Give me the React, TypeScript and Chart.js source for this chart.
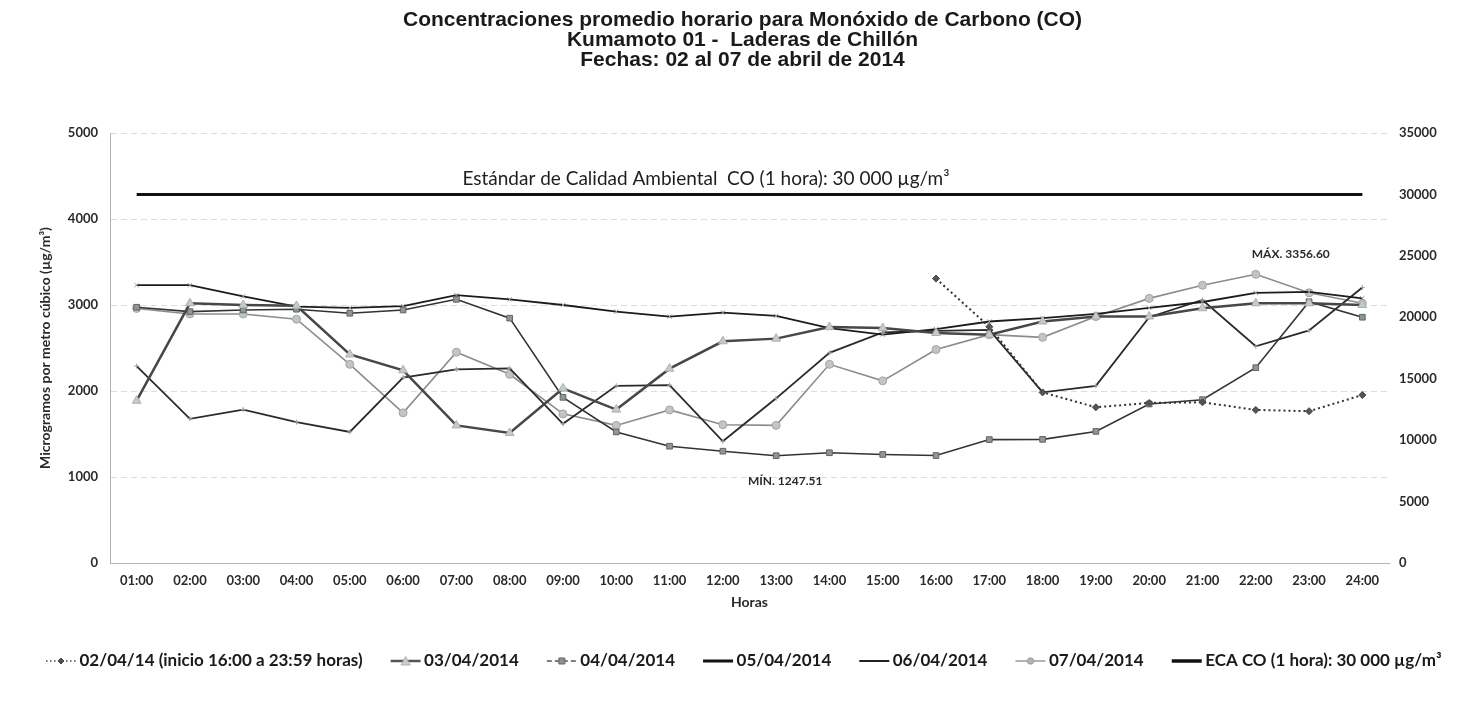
import { useEffect, useRef } from "react";
import { Chart, registerables } from "chart.js";

Chart.register(...registerables);

// ---------- data ----------
const horas = [
  "01:00", "02:00", "03:00", "04:00", "05:00", "06:00", "07:00", "08:00",
  "09:00", "10:00", "11:00", "12:00", "13:00", "14:00", "15:00", "16:00",
  "17:00", "18:00", "19:00", "20:00", "21:00", "22:00", "23:00", "24:00",
];

const co020414: (number | null)[] = [
  null, null, null, null, null, null, null, null,
  null, null, null, null, null, null, null, 3307,
  2747, 1984, 1811, 1861, 1869, 1780, 1765, 1953,
];
const co030414 = [
  1887, 3020, 3000, 2990, 2425, 2240, 1600, 1512,
  2030, 1784, 2260, 2578, 2609, 2743, 2732, 2674,
  2655, 2808, 2866, 2866, 2962, 3020, 3020, 3000,
];
const co040414 = [
  2974, 2923, 2942, 2951, 2904, 2942, 3066, 2847,
  1926, 1524, 1358, 1300, 1247.51, 1282, 1262, 1250,
  1435, 1438, 1530, 1849, 1899, 2271, 3038, 2858,
];
const co050414 = [
  3230, 3230, 3100, 2980, 2966, 2988, 3115, 3066,
  3000, 2923, 2865, 2911, 2873, 2732, 2655, 2720,
  2808, 2847, 2896, 2966, 3035, 3142, 3153, 3077,
];
const co060414 = [
  2290, 1677, 1784, 1639, 1524, 2157, 2252, 2264,
  1619, 2060, 2068, 1415, 1915, 2444, 2681, 2700,
  2710, 1984, 2060, 2858, 3058, 2520, 2704, 3204,
];
const co070414 = [
  2960, 2896, 2896, 2835, 2310, 1746, 2451, 2194,
  1734, 1600, 1780, 1608, 1600, 2310, 2118, 2482,
  2655, 2624, 2865, 3077, 3230, 3356.6, 3142, 3020,
];
const ecaCO = [
  30000, 30000, 30000, 30000, 30000, 30000, 30000, 30000,
  30000, 30000, 30000, 30000, 30000, 30000, 30000, 30000,
  30000, 30000, 30000, 30000, 30000, 30000, 30000, 30000,
];

const titulo = [
  "Concentraciones promedio horario para Monóxido de Carbono (CO)",
  "Kumamoto 01 -  Laderas de Chillón",
  "Fechas: 02 al 07 de abril de 2014",
];
const ecaTexto = "Estándar de Calidad Ambiental  CO (1 hora): 30 000 µg/m³";
const etiquetas = [
  "02/04/14 (inicio 16:00 a 23:59 horas)",
  "03/04/2014",
  "04/04/2014",
  "05/04/2014",
  "06/04/2014",
  "07/04/2014",
  "ECA CO (1 hora): 30 000 µg/m³",
];

const FONT = "Lato, 'Liberation Sans', sans-serif";

type IconSpec = {
  line: string;
  width: number;
  dash?: number[];
  marker?: "diamond" | "triangle" | "square" | "circle";
  fill?: string;
  stroke?: string;
};

// legend icon: 46px canvas drawn centred on a 30px box, artwork shifted right
function makeIcon(spec: IconSpec): HTMLCanvasElement {
  const c = document.createElement("canvas");
  c.width = 46;
  c.height = 14;
  const g = c.getContext("2d")!;
  const x0 = 13;
  const x1 = 43;
  const xm = (x0 + x1) / 2;
  g.strokeStyle = spec.line;
  g.lineWidth = spec.width;
  g.setLineDash(spec.dash || []);
  g.beginPath();
  g.moveTo(x0, 7);
  g.lineTo(x1, 7);
  g.stroke();
  g.setLineDash([]);
  if (spec.marker) {
    g.fillStyle = spec.fill || "#888";
    g.strokeStyle = spec.stroke || "#666";
    g.lineWidth = 1;
    g.beginPath();
    if (spec.marker === "diamond") {
      g.moveTo(xm, 4); g.lineTo(xm + 3, 7); g.lineTo(xm, 10); g.lineTo(xm - 3, 7); g.closePath();
    } else if (spec.marker === "triangle") {
      g.moveTo(xm, 2.5); g.lineTo(xm + 4.5, 11); g.lineTo(xm - 4.5, 11); g.closePath();
    } else if (spec.marker === "square") {
      g.rect(xm - 3, 4, 6, 6);
    } else {
      g.arc(xm, 7, 3.2, 0, Math.PI * 2);
    }
    g.fill();
    g.stroke();
  }
  return c;
}

const annotations = {
  id: "coAnnotations",
  beforeDraw(chart: any) {
    const { ctx, width, height } = chart;
    ctx.save();
    ctx.fillStyle = "#ffffff";
    ctx.fillRect(0, 0, width, height);
    ctx.restore();
  },
  afterDatasetsDraw(chart: any) {
    const { ctx, chartArea, scales } = chart;
    const x = scales.x;
    const y = scales.y;
    const y1 = scales.y1;
    ctx.save();
    ctx.fillStyle = "#1e1e1e";
    ctx.textAlign = "center";
    ctx.textBaseline = "alphabetic";
    ctx.font = `19px ${FONT}`;
    ctx.fillText(
      ecaTexto,
      chartArea.left + chartArea.width * 0.466,
      y1.getPixelForValue(ecaCO[0]) - 9
    );
    const max = Math.max(...co070414);
    const iMax = co070414.indexOf(max);
    const min = Math.min(...co040414);
    const iMin = co040414.indexOf(min);
    ctx.font = `bold 12px ${FONT}`;
    ctx.fillStyle = "#2a2a2a";
    ctx.textBaseline = "middle";
    ctx.fillText(`MÁX. ${max.toFixed(2)}`, x.getPixelForValue(iMax) + 35, y.getPixelForValue(max) - 20);
    ctx.fillText(`MÍN. ${min.toFixed(2)}`, x.getPixelForValue(iMin) + 9, y.getPixelForValue(min) + 25);
    ctx.restore();
  },
};

export default function App() {
  const ref = useRef<HTMLCanvasElement | null>(null);

  useEffect(() => {
    if (!ref.current) return;
    const icons = [
      makeIcon({ line: "#444", width: 1.5, dash: [1.5, 2.5], marker: "diamond", fill: "#555", stroke: "#444" }),
      makeIcon({ line: "#555", width: 2.5, marker: "triangle", fill: "#c9cfcf", stroke: "#aab2b2" }),
      makeIcon({ line: "#555", width: 1.5, dash: [5, 3], marker: "square", fill: "#8a9292", stroke: "#5d6565" }),
      makeIcon({ line: "#111", width: 3 }),
      makeIcon({ line: "#222", width: 2 }),
      makeIcon({ line: "#999", width: 1.5, marker: "circle", fill: "#b5b5b5", stroke: "#999" }),
      makeIcon({ line: "#111", width: 3.5 }),
    ];
    const tickFont = { family: FONT, size: 13, weight: "bold" };
    const plain = (v: any) => String(v);
    const padLeft = 18;

    const chart = new Chart(ref.current, {
      type: "line",
      data: {
        labels: horas,
        datasets: [
          {
            label: etiquetas[0],
            data: co020414,
            yAxisID: "y",
            borderColor: "#333",
            borderWidth: 2,
            borderDash: [2, 3],
            pointStyle: "rectRot",
            pointRadius: 3.5,
            pointBackgroundColor: "#555",
            pointBorderColor: "#444",
            pointBorderWidth: 1,
            spanGaps: false,
          },
          {
            label: etiquetas[1],
            data: co030414,
            yAxisID: "y",
            borderColor: "#474747",
            borderWidth: 2.5,
            pointStyle: "triangle",
            pointRadius: 5,
            pointBackgroundColor: "#c5cbcb",
            pointBorderColor: "#a8b0b0",
            pointBorderWidth: 1,
          },
          {
            label: etiquetas[2],
            data: co040414,
            yAxisID: "y",
            borderColor: "#333",
            borderWidth: 1.6,
            pointStyle: "rect",
            pointRadius: 4,
            pointBackgroundColor: "#8e9696",
            pointBorderColor: "#5e6666",
            pointBorderWidth: 1,
          },
          {
            label: etiquetas[3],
            data: co050414,
            yAxisID: "y",
            borderColor: "#1c1c1c",
            borderWidth: 1.8,
            pointStyle: "crossRot",
            pointRadius: 3,
            pointBorderColor: "#9a9a9a",
            pointBorderWidth: 1,
          },
          {
            label: etiquetas[4],
            data: co060414,
            yAxisID: "y",
            borderColor: "#2a2a2a",
            borderWidth: 1.8,
            pointStyle: "cross",
            pointRadius: 2.5,
            pointBorderColor: "#a0a0a0",
            pointBorderWidth: 1,
          },
          {
            label: etiquetas[5],
            data: co070414,
            yAxisID: "y",
            borderColor: "#8c8c8c",
            borderWidth: 1.6,
            pointStyle: "circle",
            pointRadius: 4,
            pointBackgroundColor: "#c4c4c4",
            pointBorderColor: "#a5a5a5",
            pointBorderWidth: 1,
          },
          {
            label: etiquetas[6],
            data: ecaCO,
            yAxisID: "y1",
            borderColor: "#111",
            borderWidth: 3,
            pointRadius: 0,
          },
        ],
      },
      options: {
        responsive: false,
        animation: false,
        events: [],
        layout: { padding: { left: padLeft, right: 0, top: 0, bottom: 25.5 } },
        plugins: {
          tooltip: { enabled: false },
          title: {
            display: true,
            text: titulo,
            color: "#1a1a1a",
            font: { family: "'Liberation Sans', Arial, sans-serif", size: 21, weight: "bold", lineHeight: 0.95 },
            padding: { top: 10, bottom: 63.15 },
          },
          legend: {
            display: true,
            position: "bottom",
            align: "start",
            labels: {
              usePointStyle: true,
              pointStyleWidth: 30,
              padding: 23,
              color: "#1a1a1a",
              font: { family: FONT, size: 17, weight: "bold" },
              generateLabels: (ch: any) =>
                Chart.defaults.plugins.legend.labels
                  .generateLabels(ch)
                  .map((it: any, i: number) => ({ ...it, pointStyle: icons[i], lineWidth: 0 })),
            },
          },
        },
        scales: {
          x: {
            type: "category",
            offset: true,
            grid: { display: false, drawTicks: false },
            border: { display: true, color: "#b5b5b5", width: 1 },
            ticks: {
              padding: 10,
              color: "#2a2a2a",
              font: tickFont,
              maxRotation: 0,
              autoSkip: false,
            },
            title: {
              display: true,
              text: "Horas",
              color: "#2a2a2a",
              font: { family: FONT, size: 14, weight: "bold" },
              padding: { top: 0, bottom: 19.1 },
            },
            afterFit: (s: any) => {
              s.height = 66.5;
            },
          },
          y: {
            position: "left",
            min: 0,
            max: 5000,
            ticks: {
              stepSize: 1000,
              padding: 12,
              color: "#2a2a2a",
              font: tickFont,
              callback: plain,
            },
            grid: { color: "#dcdcdc", drawTicks: false, lineWidth: 1 },
            border: { display: true, color: "#b0b0b0", dash: [6, 4] },
            title: {
              display: true,
              text: "Microgramos por metro cúbico (µg/m³)",
              color: "#2a2a2a",
              font: { family: FONT, size: 14, weight: "bold" },
              padding: { top: 45 - padLeft - 8.4, bottom: 0 },
            },
            afterFit: (s: any) => {
              s.width = 110 - padLeft;
            },
          },
          y1: {
            position: "right",
            min: 0,
            max: 35000,
            ticks: {
              stepSize: 5000,
              padding: 10,
              color: "#2a2a2a",
              font: tickFont,
              callback: plain,
            },
            grid: { drawOnChartArea: false, drawTicks: false },
            border: { display: false },
            afterFit: (s: any) => {
              s.width = 78;
            },
          },
        },
      } as any,
      plugins: [annotations],
    });

    return () => chart.destroy();
  }, []);

  return (
    <div style={{ position: "absolute", left: 0, top: 0, width: 1467, height: 705, background: "#fff" }}>
      <canvas ref={ref} width={1467} height={705} style={{ display: "block" }} />
    </div>
  );
}
